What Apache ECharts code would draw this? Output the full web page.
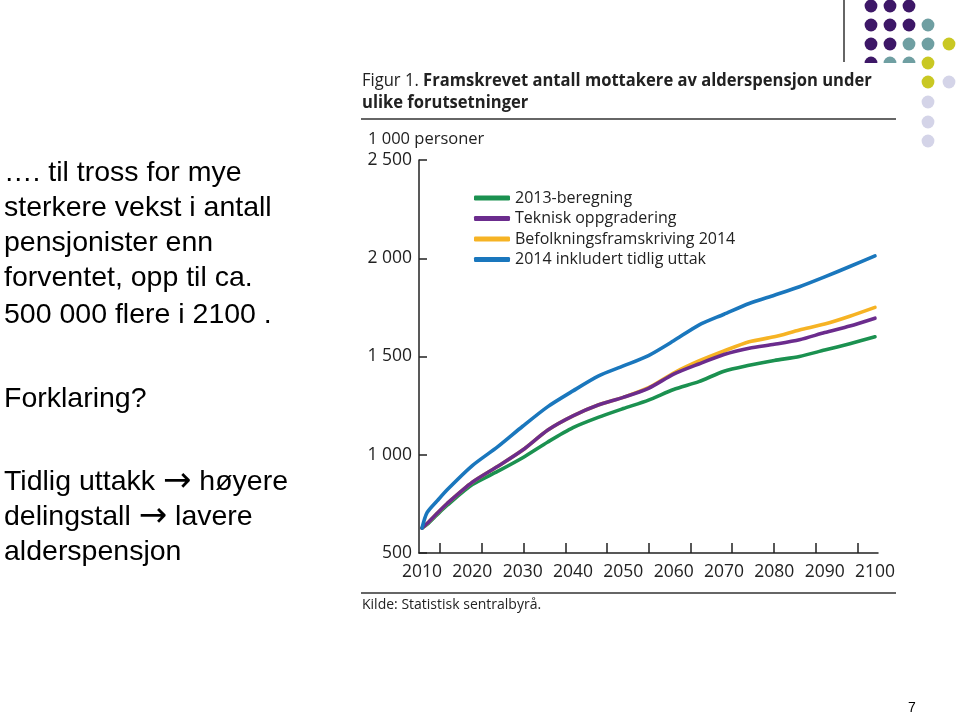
<!DOCTYPE html>
<html>
<head>
<meta charset="utf-8">
<script src="https://cdn.jsdelivr.net/npm/echarts@6/dist/echarts.min.js"></script>
<style>
  html, body { margin: 0; padding: 0; background: #fff; }
  #chart { width: 960px; height: 716px; }
</style>
</head>
<body>
<div id="chart"></div>
<script>
// values in 1 000 persons
const years = [2010, 2011, 2013, 2015, 2020, 2025, 2030, 2035, 2040, 2045, 2050,
               2055, 2060, 2065, 2070, 2075, 2080, 2085, 2090, 2095, 2100];
const beregning2013 = [627, 645, 695, 743, 848, 915, 985, 1065, 1138, 1190, 1235,
                       1278, 1332, 1372, 1425, 1455, 1480, 1500, 1533, 1565, 1600];
const tekniskOppgradering = [627, 650, 702, 752, 860, 940, 1024, 1126, 1198, 1253, 1292,
                             1338, 1410, 1462, 1510, 1542, 1562, 1585, 1622, 1655, 1695];
const befolkning2014 = [627, 650, 702, 752, 860, 940, 1024, 1126, 1198, 1253, 1292,
                        1341, 1416, 1477, 1528, 1575, 1600, 1635, 1665, 1705, 1750];
const tidligUttak2014 = [627, 705, 765, 822, 945, 1040, 1145, 1245, 1325, 1400, 1452,
                         1505, 1580, 1660, 1715, 1770, 1812, 1855, 1905, 1958, 2012];

const seriesNames = ["2013-beregning", "Teknisk oppgradering",
                     "Befolkningsframskriving 2014", "2014 inkludert tidlig uttak"];
const colors = ["#1b9150", "#6b2c8d", "#f6b324", "#1a77bd"];

const xLabelValues = [2010, 2020, 2030, 2040, 2050, 2060, 2070, 2080, 2090, 2100];
const xTickValues = [2013.6, 2021.9, 2030.2, 2038.5, 2046.8, 2055.1,
                     2063.3, 2071.6, 2079.9, 2088.2, 2096.5];
const yTicks = [500, 1000, 1500, 2000, 2500];
const yTickLabels = ["500", "1 000", "1 500", "2 000", "2 500"];

const slideText = ["…. til tross for mye", "sterkere vekst i antall", "pensjonister enn",
                   "forventet, opp til ca.", "500 000 flere i 2100 .", "Forklaring?",
                   "Tidlig uttakk {a|\u2192} høyere", "delingstall {a|\u2192} lavere", "alderspensjon"];
const slideTextY = [173, 208, 243, 278, 315, 399, 482, 517, 552];

const chartFont = "'Open Sans', 'Noto Sans', sans-serif";
const slideFont = "'Liberation Sans', Arial, sans-serif";

let chart = echarts.init(document.getElementById("chart"), null, { renderer: "canvas" });

const seriesData = [beregning2013, tekniskOppgradering, befolkning2014, tidligUttak2014];
const drawOrder = [0, 2, 1, 3]; // yellow sits under purple

const series = drawOrder.map((i) => ({
    type: "line",
    name: seriesNames[i],
    data: years.map((y, k) => [y, seriesData[i][k]]),
    smooth: 0.25,
    showSymbol: false,
    color: colors[i],
    lineStyle: { width: 3.6, color: colors[i], cap: "round", join: "round" },
}));

// decoration dots top right
const dots = [
    [871, 6, "#3d1767"], [890, 6, "#3d1767"], [909, 6, "#3d1767"],
    [871, 25, "#3d1767"], [890, 25, "#3d1767"], [909, 25, "#3d1767"], [928, 25, "#6f9fa2"],
    [871, 44, "#3d1767"], [890, 44, "#3d1767"], [909, 44, "#6f9fa2"], [928, 44, "#6f9fa2"], [949, 44, "#c9c823"],
    [871, 63, "#3d1767"], [890, 63, "#6f9fa2"], [909, 63, "#6f9fa2"], [928, 63, "#c9c823"],
    [928, 82, "#c9c823"], [949, 82, "#d4d4e8"],
    [928, 102, "#d4d4e8"], [928, 122, "#d4d4e8"], [928, 141, "#d4d4e8"],
];

const graphics = dots.map(([cx, cy, c]) => ({
    type: "circle", shape: { cx: cx, cy: cy, r: 6.4 }, style: { fill: c }, silent: true,
}));

graphics.push(
    { type: "rect", shape: { x: 352, y: 63, width: 567, height: 565 }, style: { fill: "#fff" } },
    { type: "line", shape: { x1: 844, y1: 0, x2: 844, y2: 62 }, style: { stroke: "#333", lineWidth: 1.5 } },
    {
        type: "text", x: 362, y: 70, scaleX: 0.92, originX: 0,
        style: {
            text: "{r|Figur 1. }{b|Framskrevet antall mottakere av alderspensjon under}\n{b|ulike forutsetninger}",
            rich: {
                r: { fontFamily: chartFont, fontSize: 18, fill: "#222", lineHeight: 22 },
                b: { fontFamily: chartFont, fontSize: 18, fontWeight: "bold", fill: "#222", lineHeight: 22 },
            },
        },
    },
    { type: "line", shape: { x1: 361, y1: 119, x2: 896, y2: 119 }, style: { stroke: "#333", lineWidth: 1.5 } },
    {
        type: "text", x: 368, y: 139,
        style: { text: "1 000 personer", font: "16.5px " + chartFont, fill: "#222", verticalAlign: "middle" },
    },
    { type: "line", shape: { x1: 361, y1: 593, x2: 896, y2: 593 }, style: { stroke: "#333", lineWidth: 1.5 } },
    {
        type: "text", x: 362, y: 605,
        style: { text: "Kilde: Statistisk sentralbyrå.", font: "14px " + chartFont, fill: "#222", verticalAlign: "middle" },
    },
    {
        type: "text", x: 912, y: 708,
        style: { text: "7", font: "14px " + slideFont, fill: "#000", align: "center", verticalAlign: "middle" },
    }
);

slideText.forEach((t, i) => {
    graphics.push({
        type: "text", x: 4, y: slideTextY[i],
        style: {
            text: t, font: "28.5px " + slideFont, fill: "#000", verticalAlign: "middle",
            rich: { a: { fontFamily: "'DejaVu Sans', sans-serif", fontSize: 34, fill: "#000" } },
        },
    });
});

chart.setOption({
    animation: false,
    backgroundColor: "#fff",
    graphic: { elements: graphics },
    grid: { left: 419, right: 82, top: 160, bottom: 163 },
    legend: {
        data: seriesNames,
        orient: "vertical",
        left: 469,
        top: 185,
        itemWidth: 36,
        itemHeight: 5,
        itemGap: 4.5,
        icon: "roundRect",
        textStyle: { fontFamily: chartFont, fontSize: 16, color: "#222", lineHeight: 15 },
    },
    xAxis: {
        type: "value",
        min: 2009.4,
        max: 2100.6,
        axisLine: { show: true, lineStyle: { color: "#222", width: 1.5 } },
        axisTick: { show: true, inside: true, length: 10, customValues: xTickValues,
                    lineStyle: { color: "#222", width: 1.5 } },
        axisLabel: { customValues: xLabelValues, margin: 10, fontFamily: chartFont,
                     fontSize: 17.5, color: "#222", formatter: (v) => String(v) },
        splitLine: { show: false },
    },
    yAxis: {
        type: "value",
        min: 500,
        max: 2500,
        interval: 500,
        axisLine: { show: true, lineStyle: { color: "#222", width: 1.5 } },
        axisTick: { show: true, inside: true, length: 8, lineStyle: { color: "#222", width: 1.5 } },
        axisLabel: {
            margin: 7, fontFamily: chartFont, fontSize: 17.5, color: "#222",
            formatter: (v) => yTickLabels[yTicks.indexOf(v)] ?? "",
        },
        splitLine: { show: false },
    },
    series: series,
});
</script>
</body>
</html>
